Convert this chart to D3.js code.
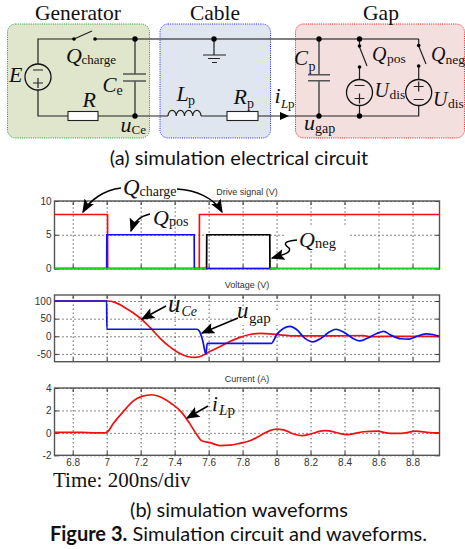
<html>
<head>
  <meta charset="UTF-8">
  <title>Simulation circuit and waveforms</title>
  <script src="https://d3js.org/d3.v7.min.js"></script>
  <style>
    body { margin: 0; background: #fff; }
    svg { display: block; }
    .wire { fill: none; stroke: #222; stroke-width: 1.2; }
    .top-wire { fill: none; stroke: #555; stroke-width: 1.6; }
    .serif { font-family: "Liberation Serif", serif; fill: #111; }
    .caption { font-family: Lato, sans-serif; fill: #111; text-anchor: middle; }
    .tick text { font-family: "Liberation Sans", sans-serif; font-size: 10px; fill: #333; }
    .grid line { stroke: #111; stroke-width: 1; stroke-dasharray: 1 3; }
    .grid path, .edge path { display: none; }
    .edge line { stroke: #333; stroke-width: 1; }
    .title { font-family: "Liberation Sans", sans-serif; font-size: 9px; fill: #333; text-anchor: middle; }
  </style>
</head>
<body>
  <svg id="svg1" height="549" width="465"></svg>
  <script>
    /* Data */
    const timeTicks = [6.8, 7, 7.2, 7.4, 7.6, 7.8, 8, 8.2, 8.4, 8.6, 8.8];
    const driveTicks = [0, 5, 10];
    const voltageTicks = [-50, 0, 50, 100];
    const currentTicks = [-2, 0, 2, 4];

    const qCharge = [[6.693, 8], [7.005, 8], [7.006, 0], [7.545, 0], [7.546, 8], [8.958, 8]];
    const qPos = [[6.693, 0], [7, 0], [7.001, 5], [7.515, 5], [7.516, 0], [7.96, 0]];
    const qNeg = [[7.56, 0], [7.588, 0], [7.589, 5], [7.96, 5], [7.961, 0], [8.0, 0]];
    const qBaseLeft = [[6.693, 0], [7.585, 0]];
    const qBaseRight = [[7.96, 0], [8.958, 0]];

    const uCe = [[6.693, 100], [7, 100], [7.049, 96], [7.098, 84], [7.157, 66], [7.206, 48], [7.255, 25],
      [7.313, -5], [7.372, -30], [7.431, -49], [7.48, -58], [7.52, -60], [7.559, -56], [7.588, -48],
      [7.647, -34], [7.725, -15], [7.784, -3], [7.843, 5], [7.902, 8], [7.96, 7], [8.02, 4], [8.116, 1],
      [8.31, 1], [8.51, 2], [8.55, -1], [8.7, 0], [8.958, 0]];
    const uGap = [[6.693, 100], [7, 100], [7.001, 20], [7.53, 20], [7.545, 15], [7.565, -12], [7.584, -50],
      [7.592, -20], [7.97, -20], [8.0, 4], [8.04, 22], [8.08, 28], [8.116, 20], [8.167, -6], [8.215, -16],
      [8.26, -6], [8.31, 12], [8.35, 20], [8.4, 10], [8.45, -6], [8.49, -13], [8.54, -4], [8.59, 8],
      [8.63, 14], [8.67, 4], [8.73, -7], [8.78, -8], [8.82, -1], [8.88, 7], [8.92, 5], [8.958, 0]];
    const iLp = [[6.693, 0.05], [6.85, 0.05], [6.93, 0], [6.99, 0], [7.005, 0.1], [7.04, 0.85], [7.098, 1.9],
      [7.157, 2.85], [7.206, 3.25], [7.265, 3.4], [7.323, 3.15], [7.382, 2.6], [7.44, 1.85], [7.49, 0.8],
      [7.53, -0.15], [7.559, -0.7], [7.608, -0.87], [7.666, -1.13], [7.725, -1.1], [7.784, -0.93],
      [7.843, -0.7], [7.902, -0.25], [7.96, 0.2], [8.0, 0.33], [8.04, 0.27], [8.1, -0.1], [8.15, -0.25],
      [8.2, -0.1], [8.28, 0.2], [8.31, 0.18], [8.37, -0.05], [8.42, -0.15], [8.51, 0.1], [8.59, 0.15],
      [8.67, -0.05], [8.73, -0.05], [8.82, 0.15], [8.9, 0.03], [8.958, 0]];

    /* Constants */
    const svg = d3.select("#svg1");
    const plotLeft = 54.5;
    const plotRight = 439.5;

    const xScale = d3.scaleLinear().domain([6.8, 8.8]).range([72.7, 412.5]);

    svg.append("defs").append("marker")
      .attr("id", "head").attr("viewBox", "0 0 10 8").attr("refX", 9).attr("refY", 4)
      .attr("markerWidth", 14).attr("markerHeight", 11).attr("markerUnits", "userSpaceOnUse")
      .attr("orient", "auto")
      .append("path").attr("d", "M0,0 L10,4 L0,8 L2,4 Z").attr("fill", "#000");

    /* Text helper: main letter plus subscript */
    function label(x, y, main, size, sub, subX, subY, subSize, subItalic) {
      svg.append("text").attr("class", "serif").attr("x", x).attr("y", y)
        .attr("font-size", size).attr("font-style", "italic").text(main);
      if (sub) {
        svg.append("text").attr("class", "serif").attr("x", subX).attr("y", subY)
          .attr("font-size", subSize).attr("font-style", subItalic ? "italic" : "normal").text(sub);
      }
    }

    function heading(x, y, txt) {
      svg.append("text").attr("class", "serif").attr("x", x).attr("y", y)
        .attr("font-size", 21.5).attr("text-anchor", "middle").text(txt);
    }

    /* Circuit: shaded boxes */
    const boxes = [
      { x: 7.5, w: 142, fill: "#dfe6cc", stroke: "#12a02a" },
      { x: 160, w: 110.5, fill: "#dfe6f0", stroke: "#2222ee" },
      { x: 295.5, w: 169, fill: "#f4dfdf", stroke: "#ee1111" }
    ];
    boxes.forEach(b => {
      svg.append("rect").attr("x", b.x).attr("y", 24).attr("width", b.w).attr("height", 114)
        .attr("rx", 8).attr("fill", b.fill).attr("stroke", b.stroke)
        .attr("stroke-width", 1).attr("stroke-dasharray", "1 1.2");
    });

    heading(78, 20, "Generator");
    heading(215, 20, "Cable");
    heading(381, 20, "Gap");

    /* Circuit: wires */
    function wire(d, cls) {
      return svg.append("path").attr("class", cls || "wire").attr("d", d);
    }
    wire("M95,39 H418.7", "top-wire");
    wire("M74,39 H38 V64 M38,90 V116 H68 M98,116 H168 M201,116 H227 M258,116 H418.7 V105.5");
    wire("M74,39 L92,31");
    wire("M135,39 V74 M135,81 V116", "top-wire");
    wire("M123,74 H146 M123,81 H146", "top-wire");
    wire("M319,39 V74.7 M319,80.7 V116 M308,74.7 H330 M308,80.7 H330", "top-wire");
    wire("M214,39 V55 M203,55 H226 M208,58.5 H220 M212,62.5 H217");
    wire("M359.5,39 V46 M359.5,47 L367,66 M359.5,67 V79.5 M359.5,105.5 V116");
    wire("M418.7,39 V45.5 M418.7,46 L426,64 M418.7,66 V79.5");
    wire("M168,116 a4.1,5.5 0 0 1 8.25,0 a4.1,5.5 0 0 1 8.25,0 a4.1,5.5 0 0 1 8.25,0 a4.1,5.5 0 0 1 8.25,0");

    svg.append("path").attr("d", "M280,112 L289,116 L280,120 Z").attr("fill", "#000");

    // resistors
    [[68, 30], [227, 31]].forEach(r => {
      svg.append("rect").attr("x", r[0]).attr("y", 111.5).attr("width", r[1]).attr("height", 9)
        .attr("fill", "#fff").attr("stroke", "#222").attr("stroke-width", 1.1);
    });

    // voltage sources
    [[38, 77, false], [359.5, 92.5, false], [418.7, 92.5, true]].forEach(s => {
      const cx = s[0], cy = s[1], plusUp = s[2];
      svg.append("circle").attr("cx", cx).attr("cy", cy).attr("r", 13)
        .attr("fill", "none").attr("stroke", "#111").attr("stroke-width", 1.3);
      const py = plusUp ? cy - 6 : cy + 6;
      const my = plusUp ? cy + 7 : cy - 7;
      wire(`M${cx - 5},${py} H${cx + 5} M${cx},${py - 5} V${py + 5} M${cx - 5},${my} H${cx + 5}`)
        .attr("stroke-width", 1.8).attr("stroke", "#000");
    });

    // nodes
    [[135, 39], [135, 116], [214, 39], [319, 39], [319, 116], [359.5, 39], [359.5, 116]].forEach(n => {
      svg.append("circle").attr("cx", n[0]).attr("cy", n[1]).attr("r", 2.7).attr("fill", "#000");
    });
    [[74, 39], [95, 39], [359.5, 46], [359.5, 67], [418.7, 45.5], [418.7, 66]].forEach(n => {
      svg.append("circle").attr("cx", n[0]).attr("cy", n[1]).attr("r", 1.8).attr("fill", "#000");
    });

    /* Circuit: labels */
    label(66, 63, "Q", 22, "charge", 81.5, 64, 13);
    label(9, 81.5, "E", 22);
    label(102.5, 92, "C", 21, "e", 116.5, 94.5, 14);
    label(82.5, 107, "R", 22);
    label(120.5, 131.5, "u", 22, "Ce", 131.5, 134, 13);
    label(176.5, 101, "L", 22, "p", 188, 105, 14);
    label(233.5, 104, "R", 22, "p", 247, 108, 14);
    label(274.5, 103, "i", 22, "L", 281, 108, 13, true);
    svg.append("text").attr("class", "serif").attr("x", 288).attr("y", 108).attr("font-size", 13).text("p");
    label(294, 65, "C", 21, "p", 308.5, 71, 14);
    label(304, 130, "u", 22, "gap", 315, 132.7, 14);
    label(372, 60.5, "Q", 20, "pos", 387, 63, 13.5);
    label(431, 61, "Q", 20, "neg", 445.5, 64, 13.5);
    label(374.5, 97, "U", 20, "dis", 389.5, 99, 13.5);
    label(433, 106, "U", 20, "dis", 448, 108, 13.5);

    svg.append("text").attr("class", "caption").attr("x", 239).attr("y", 165).attr("font-size", 20)
      .text("(a) simulation electrical circuit");

    /* Plots */
    const plots = [
      { top: 201, bottom: 268.5, domain: [0, 10], ticks: driveTicks, title: "Drive signal (V)", titleY: 195 },
      { top: 295, bottom: 361.7, domain: [-72, 117], ticks: voltageTicks, title: "Voltage (V)", titleY: 288 },
      { top: 388, bottom: 455.3, domain: [-2, 4], ticks: currentTicks, title: "Current (A)", titleY: 382 }
    ];

    plots.forEach((p, i) => {
      p.y = d3.scaleLinear().domain(p.domain).range([p.bottom, p.top]);
      const plotH = p.bottom - p.top;
      const plotW = plotRight - plotLeft;

      svg.append("text").attr("class", "title").attr("x", 247).attr("y", p.titleY).text(p.title);

      const gridX = d3.axisBottom(xScale).tickValues(timeTicks).tickSize(-plotH).tickFormat("");
      const gridY = d3.axisLeft(p.y).tickValues(p.ticks).tickSize(-plotW).tickFormat("");
      svg.append("g").attr("class", "grid").attr("transform", `translate(0,${p.bottom})`).call(gridX);
      svg.append("g").attr("class", "grid").attr("transform", `translate(${plotLeft},0)`).call(gridY);

      const bottomAxis = d3.axisBottom(xScale).tickValues(timeTicks).tickSizeInner(-4).tickSizeOuter(0).tickPadding(4)
        .tickFormat(i === 2 ? d => d : "");
      const topAxis = d3.axisTop(xScale).tickValues(timeTicks).tickSizeInner(-4).tickSizeOuter(0).tickFormat("");
      const leftAxis = d3.axisLeft(p.y).tickValues(p.ticks).tickSizeInner(-4).tickSizeOuter(0).tickPadding(3)
        .tickFormat(d => d);
      const rightAxis = d3.axisRight(p.y).tickValues(p.ticks).tickSizeInner(-4).tickSizeOuter(0).tickFormat("");
      svg.append("g").attr("class", "edge").attr("transform", `translate(0,${p.bottom})`).call(bottomAxis);
      svg.append("g").attr("class", "edge").attr("transform", `translate(0,${p.top})`).call(topAxis);
      svg.append("g").attr("class", "edge").attr("transform", `translate(${plotLeft},0)`).call(leftAxis);
      svg.append("g").attr("class", "edge").attr("transform", `translate(${plotRight},0)`).call(rightAxis);

      svg.append("rect").attr("x", plotLeft).attr("y", p.top).attr("width", plotW).attr("height", plotH)
        .attr("fill", "none").attr("stroke", "#555").attr("stroke-width", 1.4);
    });

    // blanks behind the labels that sit over the grid
    [[286, 226, 62, 24], [236, 310, 46, 15]].forEach(b => {
      svg.append("rect").attr("x", b[0]).attr("y", b[1]).attr("width", b[2]).attr("height", b[3]).attr("fill", "#fff");
    });

    function drawSeries(plot, values, color, curve) {
      const line = d3.line()
        .x(d => xScale(d[0]))
        .y(d => plot.y(d[1]))
        .curve(curve || d3.curveLinear);
      svg.append("path").attr("d", line(values)).attr("fill", "none")
        .attr("stroke", color).attr("stroke-width", 1.7);
    }

    drawSeries(plots[0], qNeg, "#000");
    drawSeries(plots[0], qCharge, "#f01010");
    drawSeries(plots[0], qPos, "#1010ee");
    drawSeries(plots[0], qBaseLeft, "#22cc22");
    drawSeries(plots[0], qBaseRight, "#22cc22");
    drawSeries(plots[1], uCe, "#f01010", d3.curveMonotoneX);
    drawSeries(plots[1], uGap, "#1010ee", d3.curveMonotoneX);
    drawSeries(plots[2], iLp, "#f01010", d3.curveMonotoneX);

    /* Annotations */
    function arrow(d) {
      svg.append("path").attr("d", d).attr("fill", "none").attr("stroke", "#000")
        .attr("stroke-width", 1.5).attr("marker-end", "url(#head)");
    }
    arrow("M121,188 C104,190 90,200 83,212");
    arrow("M177,189 C196,190 214,198 222,212");
    arrow("M150,214 C140,216 134,222 131,231");
    arrow("M297,240 C284,241 283,244 289,248 C292,253 282,255 272,258");
    arrow("M166,306 L142,319");
    arrow("M238,318 L202,333");
    arrow("M208,406 L187,418");

    label(123, 195, "Q", 23, "charge", 139.5, 196, 14);
    label(153, 225, "Q", 22, "pos", 169, 226, 14);
    label(299, 247, "Q", 22, "neg", 315, 248, 14.5);
    label(168, 312, "u", 25, "Ce", 181.5, 316, 14, true);
    label(237, 318, "u", 23, "gap", 249, 323, 15);
    label(212, 411, "i", 21, "L", 219, 415, 15, true);
    svg.append("text").attr("class", "serif").attr("x", 227.5).attr("y", 415).attr("font-size", 15).text("p");

    svg.append("text").attr("class", "serif").attr("x", 53).attr("y", 487).attr("font-size", 21).text("Time: 200ns/div");

    svg.append("text").attr("class", "caption").attr("x", 239).attr("y", 517).attr("font-size", 20)
      .text("(b) simulation waveforms");
    const figCaption = svg.append("text").attr("class", "caption").attr("x", 238.5).attr("y", 541).attr("font-size", 20);
    figCaption.append("tspan").attr("font-weight", "bold").text("Figure 3.");
    figCaption.append("tspan").text(" Simulation circuit and waveforms.");
  </script>
</body>
</html>
